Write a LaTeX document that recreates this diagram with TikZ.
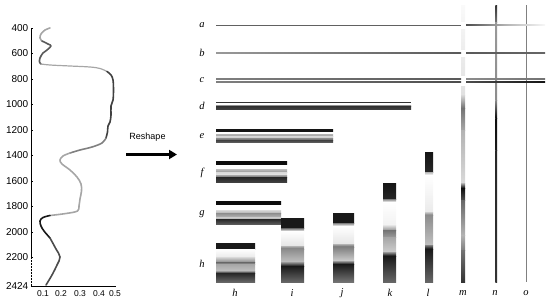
\documentclass[tikz,border=0pt]{standalone}
\usepackage{fontspec}
\setmainfont{Liberation Serif}
\setsansfont{Liberation Sans}
\usetikzlibrary{arrows.meta}
\tikzset{
  ticklab/.style={font=\sffamily\fontsize{10}{11}\selectfont, anchor=east, inner sep=0pt},
  xlab/.style={font=\sffamily\fontsize{8.5}{10}\selectfont, inner sep=0pt},
  letter/.style={font=\itshape\fontsize{10.5}{12}\selectfont, inner sep=0pt},
  curve/.style={line width=1.6pt, line cap=round, line join=round},
}
\newcommand\vbands[3]{%
  \foreach \ya/\yb/\ca/\cb in {#3} {\shade[top color=\ca, bottom color=\cb] (#1,\ya) rectangle (#2,\yb);}}
\begin{document}
\begin{tikzpicture}[x=1pt,y=-1pt]
\useasboundingbox (0,0) rectangle (550,303);
% ---------- left plot ----------
\draw[line width=0.6pt] (31,28) -- (31,258);
\draw[line width=0.5pt, densely dotted] (31,258) -- (31,286);
\draw[line width=0.6pt] (31,286) -- (116,286);
\foreach \v in {400,600,...,2200,2424} {
  \pgfmathsetmacro\yy{28+(\v-400)*0.12747}
  \draw[line width=0.5pt] (31,\yy) -- (33,\yy);
  \node[ticklab] (t\v) at (28.5,\yy) {\v};
}
\node[xlab] (x1) at (43,294) {0.1};
\node[xlab] (x2) at (61,294) {0.2};
\node[xlab] (x3) at (80,294) {0.3};
\node[xlab] (x4) at (99,294) {0.4};
\node[xlab] (x5) at (115,294) {0.5};
% curve
\draw[curve, black!35] plot[smooth, tension=0.6] coordinates {(50,28) (45,30) (41,34) (40,38) (42,41)};
\draw[curve, black!65] plot[smooth, tension=0.6] coordinates {(42,41) (48,44) (51,46) (47,50) (43,53) (40,58) (39.5,62) (41,64)};
\draw[curve, black!35, line width=1.2pt] plot[smooth, tension=0.6] coordinates {(41,64) (50,65) (70,66) (90,67) (100,68.5) (107,71.5)};
\draw[curve, black!75] plot[smooth, tension=0.6] coordinates {(107,71.5) (111,75) (113,80) (113.5,90) (113,100) (111,106) (111,115) (110,122) (108,126) (107.5,132) (106,138)};
\draw[curve, black!50] plot[smooth, tension=0.6] coordinates {(106,138) (102,143) (92,147) (80,150) (70,153)};
\draw[curve, black!35] plot[smooth, tension=0.6] coordinates {(70,153) (63,156) (60,160) (62,164) (70,170) (77,177) (81,184) (81.5,191) (80,199) (79,206) (77.5,211) (66,213.5) (50,215.5)};
\draw[curve, black!90] plot[smooth, tension=0.6] coordinates {(50,215.5) (43,217.5) (40,221) (41,226) (44,231) (50,238)};
\draw[curve, black!70] plot[smooth, tension=0.6] coordinates {(50,238) (56,249) (60,257) (57,265) (52,275) (46,285)};
% ---------- arrow ----------
\node[font=\sffamily\fontsize{9}{10}\selectfont, inner sep=0pt] (resh) at (147.5,137) {Reshape};
\coordinate (ra) at (126,154.5);
\coordinate (rb) at (177,154.5);
\draw[line width=2.6pt, -{Triangle[length=8pt,width=9pt]}] (ra) -- (rb);
% ---------- row labels ----------
\node[letter] (la) at (202,25) {a};
\node[letter] (lb) at (202,53) {b};
\node[letter] (lc) at (202,80) {c};
\node[letter] (ld) at (202,106) {d};
\node[letter] (le) at (202,136) {e};
\node[letter] (lf) at (202,173) {f};
\node[letter] (lg) at (202,214) {g};
\node[letter] (lh) at (202,264) {h};
% column labels
\node[letter] (ch) at (235,293) {h};
\node[letter] (ci) at (292,293) {i};
\node[letter] (cj) at (342,293) {j};
\node[letter] (ck) at (390,293) {k};
\node[letter] (cl) at (428,293) {l};
\node[letter] (cm) at (463,293) {m};
\node[letter] (cn) at (495,293) {n};
\node[letter] (co) at (526,293) {o};
% ---------- vertical bars m, n, o ----------
\vbands{461}{465}{5/95/black!2/black!12, 95/108/black!15/black!55, 108/130/black!55/black!35, 130/183/black!30/black!15, 183/188/black!30/black!95, 188/200/black!95/black!70, 200/235/black!60/black!30, 235/250/black!30/black!50, 250/282/black!55/black!80}
\fill[white] (460,21.5) rectangle (466,28.5);
\fill[white] (460,49.5) rectangle (466,56.5);
\fill[white] (460,76) rectangle (466,85.5);
\vbands{495.3}{497.2}{5/22/black!80/black!55, 22/100/black!40/black!45, 100/118/black!45/black!95, 118/150/black!95/black!90, 150/282/black!85/black!80}
\draw[line width=0.9pt, black!50] (526,5) -- (526,282);
% ---------- horizontal lines a, b, c, d ----------
\draw[line width=0.8pt, black!62] (216,25) -- (461,25);
\shade[left color=black!70, right color=black!3, middle color=black!30] (466,24.6) rectangle (545,25.4);
\shade[left color=black!40, right color=black!65] (216,52.2) rectangle (461,53.8);
\shade[left color=black!65, right color=black!60] (466,52.2) rectangle (545,53.8);
\shade[left color=black!50, right color=black!65] (216,78.8) rectangle (461,79.9);
\shade[left color=black!50, right color=black!70] (216,81.6) rectangle (461,82.8);
\shade[left color=black!45, right color=black!55] (466,78.8) rectangle (545,79.8);
\shade[left color=black!70, right color=black!92] (466,81.2) rectangle (545,82.8);
\draw[line width=0.9pt, black!80] (216,102) -- (411,102);
\vbands{216}{411}{105.2/106.5/black!45/black!60, 106.5/109/black!80/black!75}
% ---------- banded rows e, f, g ----------
\vbands{216}{333}{129.3/131/black!92/black!92, 134/136/black!30/black!35, 136/138/black!15/black!20, 138/140/black!45/black!60, 140/142/black!75/black!65}
\vbands{216}{287}{161/164/black!95/black!95, 169/172/black!25/black!40, 172/175/black!15/black!10, 175/177/black!35/black!55, 177/182/black!85/black!75}
\vbands{216}{281}{201/204/black!95/black!95, 210/213/black!15/black!30, 213/217/black!45/black!30, 217/219/black!20/black!30, 219/224/black!85/black!65}
% ---------- columns h..l ----------
\vbands{216}{255}{243/249/black!90/black!90, 249/257/white/black!8, 257/262/black!15/black!45, 262/264/black!60/black!40, 264/271/black!35/black!25, 271/273/black!40/black!85, 273/282/black!85/black!60}
\vbands{281}{304}{218/228/black!90/black!90, 228/231/black!60/black!5, 231/246/white/black!10, 246/249/black!30/black!55, 249/262/black!45/black!25, 262/266/black!40/black!90, 266/282/black!90/black!60}
\vbands{333}{354}{213/223/black!90/black!90, 223/226/black!50/white, 226/244/white/black!10, 244/247/black!30/black!60, 247/261/black!50/black!20, 261/264/black!40/black!90, 264/282/black!90/black!55}
\vbands{383}{396}{183/199/black!92/black!85, 199/202/black!50/white, 202/225/white/black!5, 225/230/black!10/black!40, 230/237/black!55/black!40, 237/252/black!35/black!20, 252/256/black!40/black!95, 256/282/black!90/black!60}
\vbands{425}{433}{152/172/black!92/black!85, 172/175/black!30/white, 175/212/white/black!8, 212/215/black!20/black!50, 215/245/black!45/black!25, 245/249/black!50/black!95, 249/282/black!90/black!60}
\end{tikzpicture}
\end{document}
